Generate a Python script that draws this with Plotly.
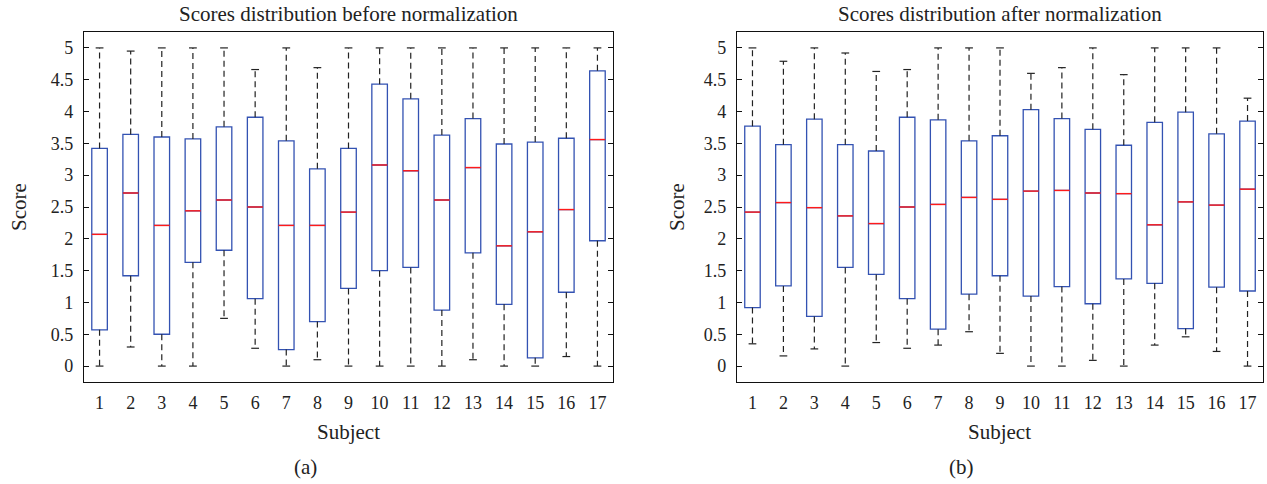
import plotly.graph_objects as go

subjects = list(range(1, 17 + 1))
tick_labels = [str(s) for s in subjects]
y_ticks = [0, 0.5, 1, 1.5, 2, 2.5, 3, 3.5, 4, 4.5, 5]
y_tick_labels = ["0", "0.5", "1", "1.5", "2", "2.5", "3", "3.5", "4", "4.5", "5"]

# (a) before normalization
before_lower = [0, 0.30, 0, 0, 0.75, 0.28, 0, 0.10, 0, 0, 0, 0, 0.10, 0, 0, 0.15, 0]
before_q1 = [0.57, 1.42, 0.50, 1.63, 1.82, 1.06, 0.26, 0.70, 1.22, 1.50, 1.55, 0.88, 1.78, 0.97, 0.13, 1.16, 1.97]
before_median = [2.07, 2.72, 2.21, 2.44, 2.61, 2.50, 2.21, 2.21, 2.42, 3.16, 3.07, 2.61, 3.12, 1.89, 2.11, 2.46, 3.56]
before_q3 = [3.42, 3.64, 3.60, 3.57, 3.76, 3.91, 3.54, 3.10, 3.42, 4.43, 4.20, 3.63, 3.89, 3.49, 3.52, 3.58, 4.64]
before_upper = [5, 4.95, 5, 5, 5, 4.66, 5, 4.69, 5, 5, 5, 5, 5, 5, 5, 5, 5]

# (b) after normalization
after_lower = [0.35, 0.16, 0.27, 0, 0.37, 0.28, 0.33, 0.54, 0.20, 0, 0, 0.09, 0, 0.33, 0.46, 0.23, 0]
after_q1 = [0.92, 1.26, 0.78, 1.55, 1.44, 1.06, 0.58, 1.13, 1.42, 1.10, 1.25, 0.98, 1.37, 1.30, 0.59, 1.24, 1.18]
after_median = [2.42, 2.57, 2.49, 2.36, 2.24, 2.50, 2.54, 2.65, 2.62, 2.75, 2.76, 2.72, 2.71, 2.22, 2.58, 2.53, 2.78]
after_q3 = [3.77, 3.48, 3.88, 3.48, 3.38, 3.91, 3.87, 3.54, 3.62, 4.03, 3.89, 3.72, 3.47, 3.83, 3.99, 3.65, 3.85]
after_upper = [5, 4.79, 5, 4.92, 4.63, 4.66, 5, 5, 5, 4.60, 4.69, 5, 4.58, 5, 5, 5, 4.21]

titles = ["Scores distribution before normalization", "Scores distribution after normalization"]
panel_labels = ["(a)", "(b)"]

W, H = 1267, 484
FONT = "Liberation Serif"
TXT = "#222222"
BLUE = "#3352b2"
RED = "#ff1a1a"
BOX_W = 0.5
CAP_W = 0.25

fig = go.Figure()


def add_panel(idx, lower, q1, med, q3, upper):
    xa = "x" if idx == 0 else "x2"
    ya = "y" if idx == 0 else "y2"
    fig.add_trace(go.Box(
        x=subjects, q1=q1, median=med, q3=q3, lowerfence=q1, upperfence=q3,
        width=BOX_W, whiskerwidth=0, fillcolor="white",
        line=dict(color=BLUE, width=1.3), xaxis=xa, yaxis=ya,
        showlegend=False, hoverinfo="skip",
    ))
    wx, wy, cx, cy, mx, my = [], [], [], [], [], []
    for s, lo, a, m, b, up in zip(subjects, lower, q1, med, q3, upper):
        wx += [s, s, None, s, s, None]
        wy += [b, up, None, a, lo, None]
        cx += [s - CAP_W / 2, s + CAP_W / 2, None, s - CAP_W / 2, s + CAP_W / 2, None]
        cy += [up, up, None, lo, lo, None]
        mx += [s - BOX_W / 2, s + BOX_W / 2, None]
        my += [m, m, None]
    fig.add_trace(go.Scatter(x=wx, y=wy, mode="lines", xaxis=xa, yaxis=ya,
                             line=dict(color=TXT, width=1.2, dash="6px,4px"),
                             showlegend=False, hoverinfo="skip"))
    fig.add_trace(go.Scatter(x=cx, y=cy, mode="lines", xaxis=xa, yaxis=ya,
                             line=dict(color=TXT, width=1.2),
                             showlegend=False, hoverinfo="skip"))
    fig.add_trace(go.Scatter(x=mx, y=my, mode="lines", xaxis=xa, yaxis=ya,
                             line=dict(color=RED, width=1.4),
                             showlegend=False, hoverinfo="skip"))


add_panel(0, before_lower, before_q1, before_median, before_q3, before_upper)
add_panel(1, after_lower, after_q1, after_median, after_q3, after_upper)

dom_left = [84 / W, 613 / W]
dom_right = [737 / W, 1263 / W]
y_dom = [(H - 382) / H, (H - 32) / H]

tickfont = dict(family=FONT, size=18, color=TXT)
xcommon = dict(range=[0.5, 17.5], tickvals=subjects, ticktext=tick_labels, ticks="",
               showline=True, linecolor="#111111", linewidth=1.3, mirror=True,
               showgrid=False, zeroline=False, tickfont=tickfont, ticklabelstandoff=4)
ycommon = dict(range=[-0.25, 5.25], tickvals=y_ticks, ticktext=y_tick_labels,
               ticks="inside", ticklen=5, tickcolor="#111111", tickwidth=1,
               showline=True, linecolor="#111111", linewidth=1.3, mirror="ticks",
               showgrid=False, zeroline=False, tickfont=tickfont, domain=y_dom,
               ticklabelstandoff=6)

fig.update_layout(
    width=W, height=H,
    margin=dict(l=0, r=0, t=0, b=0),
    paper_bgcolor="white", plot_bgcolor="white",
    font=dict(family=FONT, size=18, color=TXT),
    xaxis=dict(domain=dom_left, anchor="y", **xcommon),
    yaxis=dict(anchor="x", **ycommon),
    xaxis2=dict(domain=dom_right, anchor="y2", **xcommon),
    yaxis2=dict(anchor="x2", **ycommon),
    boxmode="overlay",
)

annotations = []
for i, dom in enumerate([dom_left, dom_right]):
    cxp = (dom[0] + dom[1]) / 2
    annotations.append(dict(text=titles[i], x=cxp, y=1 - 14 / H, xref="paper", yref="paper",
                            showarrow=False, xanchor="center", yanchor="middle",
                            font=dict(family=FONT, size=21, color=TXT)))
    annotations.append(dict(text="Subject", x=cxp, y=1 - 432 / H, xref="paper", yref="paper",
                            showarrow=False, xanchor="center", yanchor="middle",
                            font=dict(family=FONT, size=21, color=TXT)))
    annotations.append(dict(text=panel_labels[i], x=[305 / W, 961 / W][i], y=1 - 467 / H,
                            xref="paper", yref="paper", showarrow=False,
                            xanchor="center", yanchor="middle",
                            font=dict(family=FONT, size=21, color=TXT)))
    annotations.append(dict(text="Score", x=[19 / W, 677 / W][i], y=1 - 207 / H,
                            xref="paper", yref="paper", showarrow=False, textangle=-90,
                            xanchor="center", yanchor="middle",
                            font=dict(family=FONT, size=21, color=TXT)))
fig.update_layout(annotations=annotations)

fig.write_html("out.html", config={"displayModeBar": False},
               post_script="document.body.style.margin='0';")
